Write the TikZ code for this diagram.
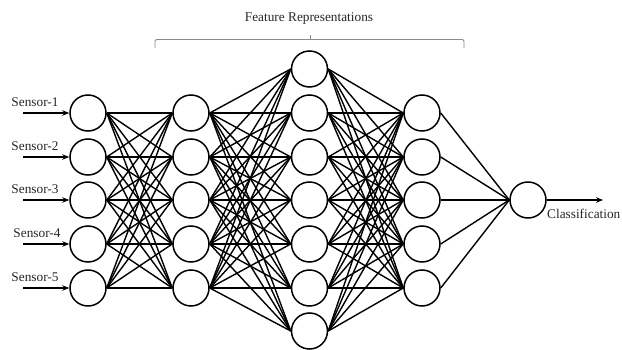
\documentclass[tikz,border=0pt]{standalone}
\usepackage{fontspec}
\setmainfont{Liberation Serif}
\usetikzlibrary{arrows.meta}
\begin{document}
\begin{tikzpicture}[x=1pt,y=-1pt,
  neuron/.style={circle,draw,line width=1.5pt,minimum size=36pt,inner sep=0pt,fill=white},
  conn/.style={line width=1.4pt},
  lbl/.style={font=\fontsize{13.3}{15}\selectfont,inner sep=0pt,text=black!85},
  inarrow/.style={line width=1.4pt,-{Stealth[length=7pt,width=5.5pt]}},
  bracket/.style={draw=black!45,line width=0.9pt,rounded corners=2pt}]
\useasboundingbox (0,0) rectangle (622,350);
% nodes
\foreach \i/\y in {1/113,2/157,3/200,4/244,5/288}{
  \node[neuron] (a\i) at (88,\y) {};
  \node[neuron] (b\i) at (191,\y) {};
  \node[neuron] (d\i) at (422,\y) {};
}
\foreach \i/\y in {1/69,2/113,3/157,4/200,5/244,6/288,7/331}{
  \node[neuron] (c\i) at (309.5,\y) {};
}
\node[neuron] (o) at (528,200) {};
% connections
\foreach \i in {1,...,5}{\foreach \j in {1,...,5}{\draw[conn] (a\i.east) -- (b\j.west);}}
\foreach \i in {1,...,5}{\foreach \j in {1,...,7}{\draw[conn] (b\i.east) -- (c\j.west);}}
\foreach \i in {1,...,7}{\foreach \j in {1,...,5}{\draw[conn] (c\i.east) -- (d\j.west);}}
\foreach \i in {1,...,5}{\draw[conn] (d\i.east) -- (o.west);}
% inputs
\foreach \i/\y/\lx in {1/113/35,2/157/35,3/200/35,4/244/37,5/288/35}{
  \coordinate (s\i) at (23,\y);
  \node[lbl] (t\i) at (\lx,\y-11) {Sensor-\i};
  \draw[inarrow] (s\i) -- (a\i.west);
}
% output
\coordinate (out) at (603,200);
\draw[inarrow] (o.east) -- (out);
\node[lbl,anchor=west] (cls) at (547,214) {Classification};
% bracket
\coordinate (bl) at (155,48);
\coordinate (br) at (464,48);
\coordinate (bm) at (310,39.5);
\draw[bracket] (bl) -- (155,39.5) -- (464,39.5) -- (br);
\draw[draw=black!45,line width=0.9pt] (bm) -- (310,35.5);
\node[lbl] (fr) at (309,19) {Feature Representations};
\end{tikzpicture}
\end{document}
